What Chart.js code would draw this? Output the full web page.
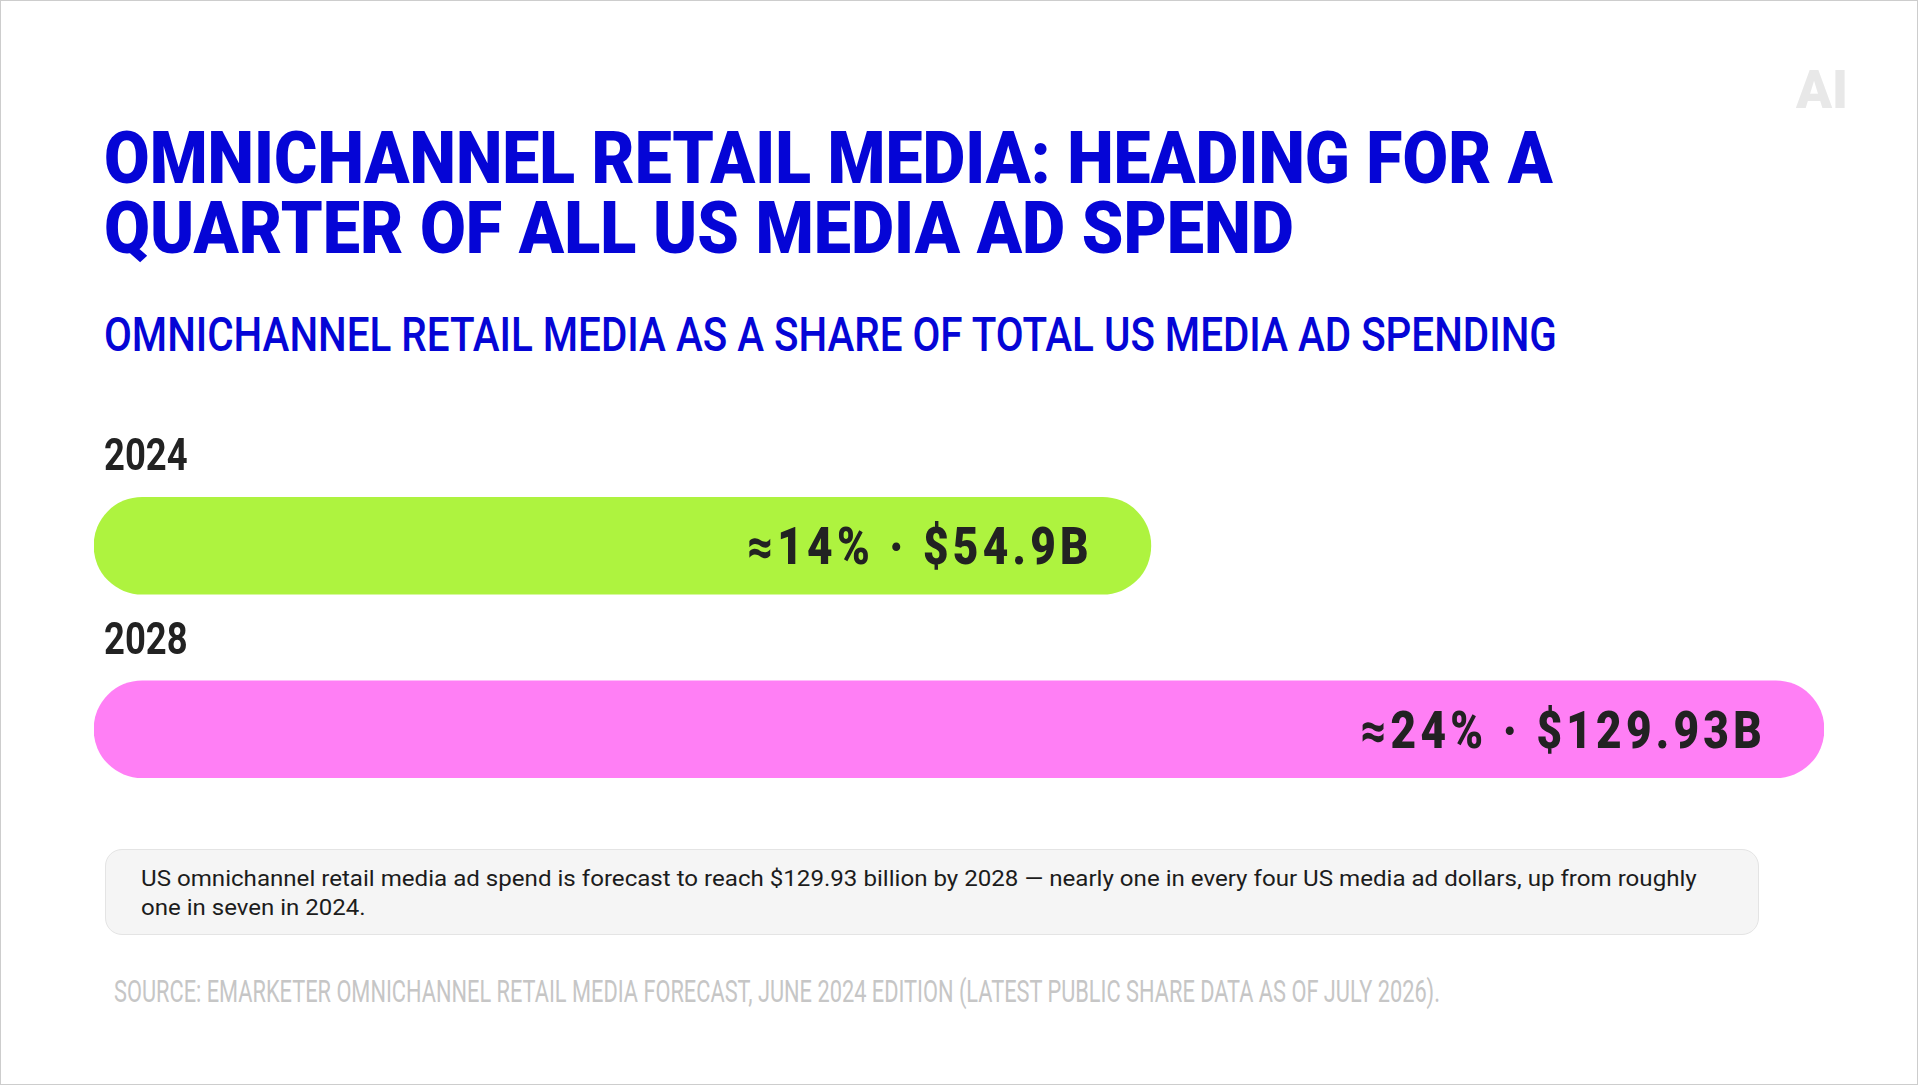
<!DOCTYPE html>
<html>
<head>
<meta charset="utf-8">
<title>Omnichannel retail media share</title>
<script src="https://cdn.jsdelivr.net/npm/chart.js@4.4.1/dist/chart.umd.min.js"></script>
<style>
  html, body { margin: 0; padding: 0; background: #fff; }
  #page {
    position: relative; width: 1918px; height: 1085px; overflow: hidden;
    font-family: Roboto, "Noto Sans", sans-serif; background: #fff;
  }
  #frame { position: absolute; left: 0; top: 0; right: 0; bottom: 0; border: 1px solid #cdcdcd; pointer-events: none; }
  .fit { position: absolute; white-space: nowrap; transform-origin: 0 0; display: inline-block; }
  #logo { left: 1796px; top: 64px; font: 900 53px/53px Roboto, sans-serif; color: #e8e8e8; }
  .title { left: 104px; font: 900 72px/70px Roboto, sans-serif; color: #0505d6; }
  #sub { left: 104px; top: 311px; font: 500 48px/48px Roboto, sans-serif; color: #0505d6; }
  #note {
    position: absolute; left: 105px; top: 849px; width: 1654px; height: 86px;
    box-sizing: border-box; background: #f5f5f5; border: 1px solid #e4e4e4; border-radius: 17px;
  }
  .noteline { left: 141px; font: 400 22px/29.4px Roboto, sans-serif; color: #1c1c1c; }
  #source { left: 114px; top: 975px; font: 400 32px/32px Roboto, sans-serif; color: #c6c6c6; }
  #chartBox { position: absolute; left: 0; top: 420px; width: 1918px; height: 420px; }
</style>
</head>
<body>
<div id="page">
  <div id="logo" class="fit">AI</div>
  <div class="fit title" style="top:124px" data-w="1449">OMNICHANNEL RETAIL MEDIA: HEADING FOR A</div>
  <div class="fit title" style="top:194px" data-w="1190">QUARTER OF ALL US MEDIA AD SPEND</div>
  <div id="sub" class="fit" data-w="1453">OMNICHANNEL RETAIL MEDIA AS A SHARE OF TOTAL US MEDIA AD SPENDING</div>

  <div id="chartBox"><canvas id="myChart"></canvas></div>

  <div id="note"></div>
  <div class="fit noteline" style="top:864px" data-w="1556">US omnichannel retail media ad spend is forecast to reach $129.93 billion by 2028 — nearly one in every four US media ad dollars, up from roughly</div>
  <div class="fit noteline" style="top:893px" data-w="225">one in seven in 2024.</div>

  <div id="source" class="fit" data-w="1326">SOURCE: EMARKETER OMNICHANNEL RETAIL MEDIA FORECAST, JUNE 2024 EDITION (LATEST PUBLIC SHARE DATA AS OF JULY 2026).</div>
  <div id="frame"></div>
</div>

<script>
// data
var years = ["2024", "2028"];
var sharePct = [14, 24];
var spendBillions = [54.9, 129.93];
var barColors = ["#aef33f", "#ff7ff5"];

function valueLabel(i) {
  return "\u2248" + sharePct[i] + "% \u00b7 $" + spendBillions[i] + "B";
}

// squeeze the wide fallback font to the width of the condensed original
function fitText() {
  document.querySelectorAll(".fit[data-w]").forEach(function (el) {
    var w = el.offsetWidth;
    var target = parseFloat(el.getAttribute("data-w"));
    if (w > 0) el.style.transform = "scaleX(" + (target / w) + ")";
  });
}

var barLabels = {
  id: "barLabels",
  afterDatasetsDraw: function (chart) {
    var ctx = chart.ctx;
    var meta = chart.getDatasetMeta(0);
    meta.data.forEach(function (bar, i) {
      var top = bar.y - bar.height / 2;

      // year above the bar
      ctx.save();
      ctx.fillStyle = "#222222";
      ctx.font = "700 45px Roboto, sans-serif";
      ctx.textAlign = "left";
      ctx.textBaseline = "alphabetic";
      ctx.translate(bar.base + 10, top - 27);
      ctx.scale(0.81, 1);
      ctx.fillText(years[i], 0, 0);
      ctx.restore();

      // share and spend inside the bar end
      ctx.save();
      ctx.fillStyle = "#222222";
      ctx.font = "900 52px Roboto, sans-serif";
      ctx.letterSpacing = "5px";
      ctx.textAlign = "right";
      ctx.textBaseline = "alphabetic";
      ctx.translate(bar.x - 58, bar.y + 18.5);
      ctx.scale(0.85, 1);
      ctx.fillText(valueLabel(i), 0, 0);
      ctx.restore();
    });
  }
};

function makeChart() {
  new Chart(document.getElementById("myChart"), {
    type: "bar",
    data: {
      labels: years,
      datasets: [
        {
          label: "Share of US media ad spending",
          data: sharePct,
          backgroundColor: barColors,
          borderRadius: 60,
          borderSkipped: false,
          barThickness: 97,
          base: -1.7,
        },
      ],
    },
    options: {
      indexAxis: "y",
      responsive: true,
      maintainAspectRatio: false,
      animation: false,
      layout: { padding: { left: 94, right: 94, top: 34, bottom: 19 } },
      plugins: {
        legend: { display: false },
        tooltip: { enabled: false },
      },
      scales: {
        x: { display: false, min: -1.7, max: 24 },
        y: { display: false },
      },
    },
    plugins: [barLabels],
  });
}

document.fonts.ready.then(function () {
  fitText();
  makeChart();
});
</script>
</body>
</html>
